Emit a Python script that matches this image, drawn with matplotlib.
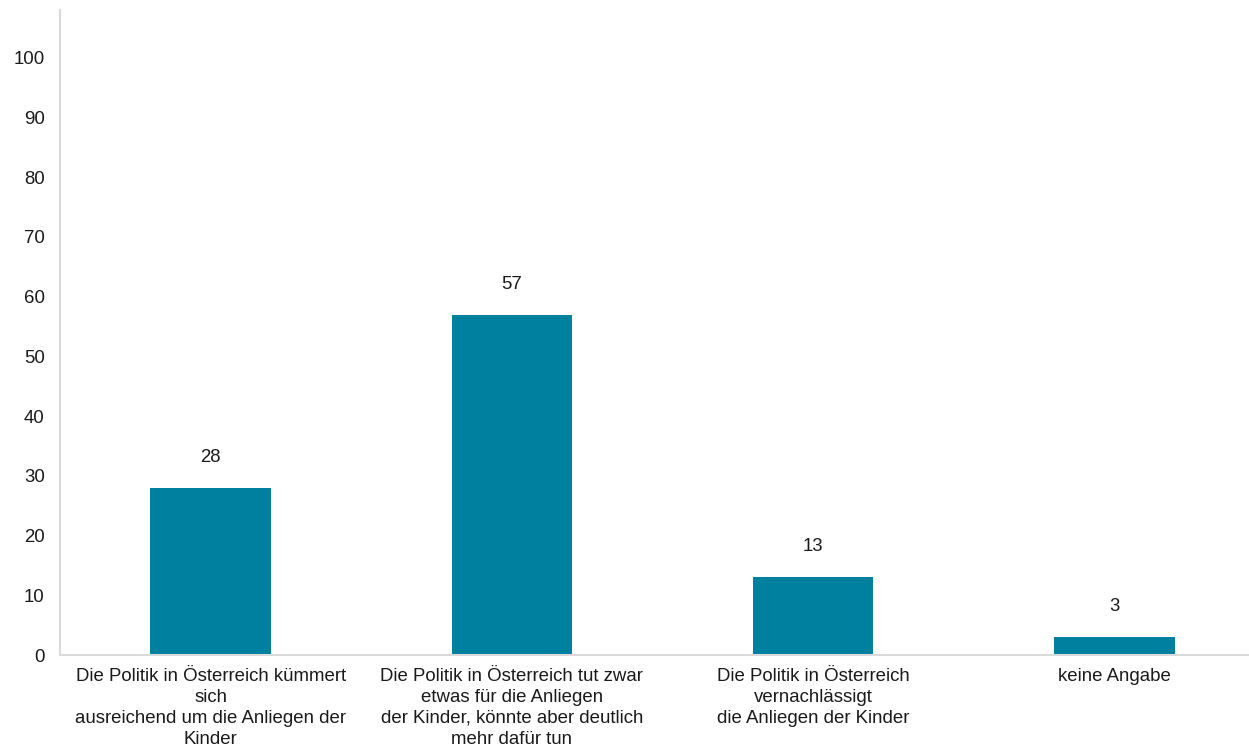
import matplotlib
matplotlib.use('Agg')
import matplotlib.pyplot as plt

categories = [
    'Die Politik in Österreich kümmert\nsich\nausreichend um die Anliegen der\nKinder',
    'Die Politik in Österreich tut zwar\netwas für die Anliegen\nder Kinder, könnte aber deutlich\nmehr dafür tun',
    'Die Politik in Österreich\nvernachlässigt\ndie Anliegen der Kinder',
    'keine Angabe',
]
values = [28, 57, 13, 3]
yticks = list(range(0, 101, 10))

plt.rcParams['font.family'] = ['Liberation Sans', 'DejaVu Sans']
text_color = '#1a1a1a'
bar_color = '#00809F'
fs = 13.4

fig = plt.figure(figsize=(12.49, 7.48), dpi=100)
# axes run past the right edge of the figure, as in the original
ax = fig.add_axes([60 / 1249, 93 / 748, 1205 / 1249, 645 / 748])

x = list(range(len(categories)))
ax.bar(x, values, width=0.4, color=bar_color)

for xi, v in zip(x, values):
    ax.annotate(str(v), (xi, v), xytext=(0, 22), textcoords='offset points',
                ha='center', va='center', fontsize=fs, color=text_color)

ax.set_xlim(-0.5, 3.5)
ax.set_ylim(0, 108)
ax.set_yticks(yticks)
ax.set_xticks(x)
ax.set_xticklabels(categories, fontsize=fs, color=text_color, linespacing=1.3)
ax.tick_params(axis='y', length=0, pad=11, labelsize=fs, labelcolor=text_color)
ax.tick_params(axis='x', length=0, pad=9.5)

for side in ['top', 'right']:
    ax.spines[side].set_visible(False)
for side in ['left', 'bottom']:
    ax.spines[side].set_color('#d9d9d9')
    ax.spines[side].set_linewidth(1.5)

fig.savefig('out.png', dpi=100)
